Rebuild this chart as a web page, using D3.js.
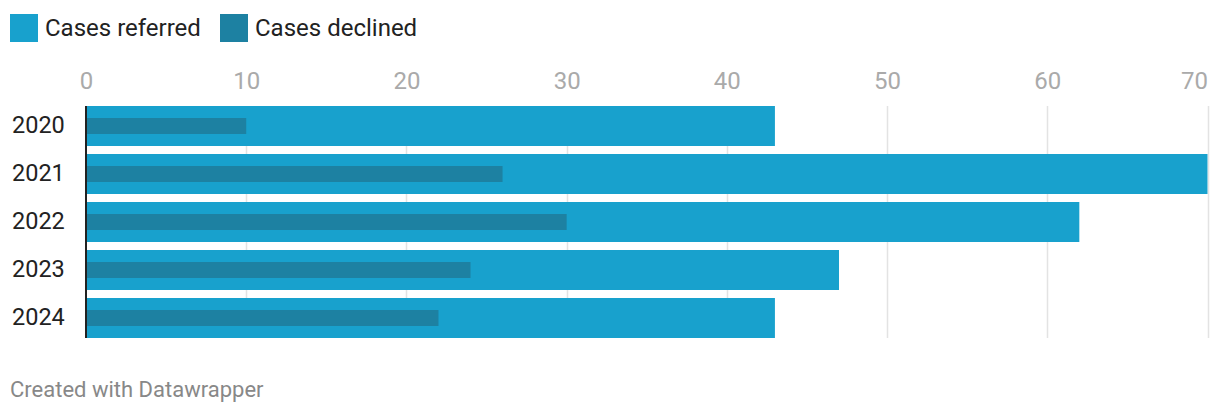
<!DOCTYPE html>
<html>
<head>
<meta charset="utf-8">
<script src="https://cdn.jsdelivr.net/npm/d3@7"></script>
<style>
  html, body { margin: 0; padding: 0; background: #fff; }
  svg { display: block; font-family: Roboto, "Noto Sans", sans-serif; }
</style>
</head>
<body>
<svg id="chart" width="1220" height="414"></svg>
<script>
// Cases referred vs. declined per year
const years = ["2020", "2021", "2022", "2023", "2024"];
const casesReferred = [43, 70, 62, 47, 43];
const casesDeclined = [10, 26, 30, 24, 22];
const xTicks = [0, 10, 20, 30, 40, 50, 60, 70];
const seriesNames = ["Cases referred", "Cases declined"];
const seriesColors = ["#18a1cd", "#1d81a2"];

const svg = d3.select("#chart");

const x = d3.scaleLinear().domain([0, 70]).range([86, 1207.5]);
// band step 48, bar height 40
const y = d3.scaleBand().domain(years).range([106, 338]).paddingInner(1 / 6).paddingOuter(0);

// Legend
const legend = svg.append("g");
const legendX = [10, 220];
seriesNames.forEach((name, i) => {
  const g = legend.append("g").attr("transform", `translate(${legendX[i]},14)`);
  g.append("rect").attr("width", 28).attr("height", 28).attr("fill", seriesColors[i]);
  g.append("text").attr("x", 35).attr("y", 22).attr("font-size", 24)
    .attr("fill", "#222").text(name);
});

// Gridlines
const bandTop = y(years[0]);
const bandBottom = y(years[years.length - 1]) + y.bandwidth();
svg.append("g").selectAll("line").data(xTicks.filter(d => d > 0)).join("line")
  .attr("x1", d => Math.round(x(d)) + 0.5).attr("x2", d => Math.round(x(d)) + 0.5)
  .attr("y1", bandTop).attr("y2", bandBottom)
  .attr("stroke", "#e3e3e3").attr("stroke-width", 1.5);

// Tick labels via axis
const axis = d3.axisTop(x).tickValues(xTicks).tickSize(0).tickPadding(0);
const axisG = svg.append("g").attr("transform", "translate(0,89)").call(axis);
axisG.select(".domain").remove();
axisG.selectAll("text")
  .attr("font-size", 24).attr("font-family", "Roboto, sans-serif")
  .attr("fill", "#aaaaaa").attr("dy", 0)
  .attr("text-anchor", d => d === xTicks[xTicks.length - 1] ? "end" : "middle");

// Referred bars
svg.append("g").selectAll("rect").data(years).join("rect")
  .attr("x", x(0)).attr("y", d => y(d))
  .attr("width", (d, i) => x(casesReferred[i]) - x(0))
  .attr("height", y.bandwidth())
  .attr("fill", seriesColors[0]);

// Declined bars (inner, thinner)
const inner = 16;
svg.append("g").selectAll("rect").data(years).join("rect")
  .attr("x", x(0)).attr("y", d => y(d) + (y.bandwidth() - inner) / 2)
  .attr("width", (d, i) => x(casesDeclined[i]) - x(0))
  .attr("height", inner)
  .attr("fill", seriesColors[1]);

// Baseline
svg.append("line")
  .attr("x1", x(0)).attr("x2", x(0))
  .attr("y1", bandTop).attr("y2", bandBottom)
  .attr("stroke", "#222").attr("stroke-width", 2);

// Year labels
svg.append("g").selectAll("text").data(years).join("text")
  .attr("x", 12).attr("y", d => y(d) + y.bandwidth() / 2 + 6.5)
  .attr("font-size", 23.5).attr("fill", "#222").text(d => d);

// Footer
svg.append("text").attr("x", 10).attr("y", 397)
  .attr("font-size", 22).attr("fill", "#888").text("Created with Datawrapper");
</script>
</body>
</html>
